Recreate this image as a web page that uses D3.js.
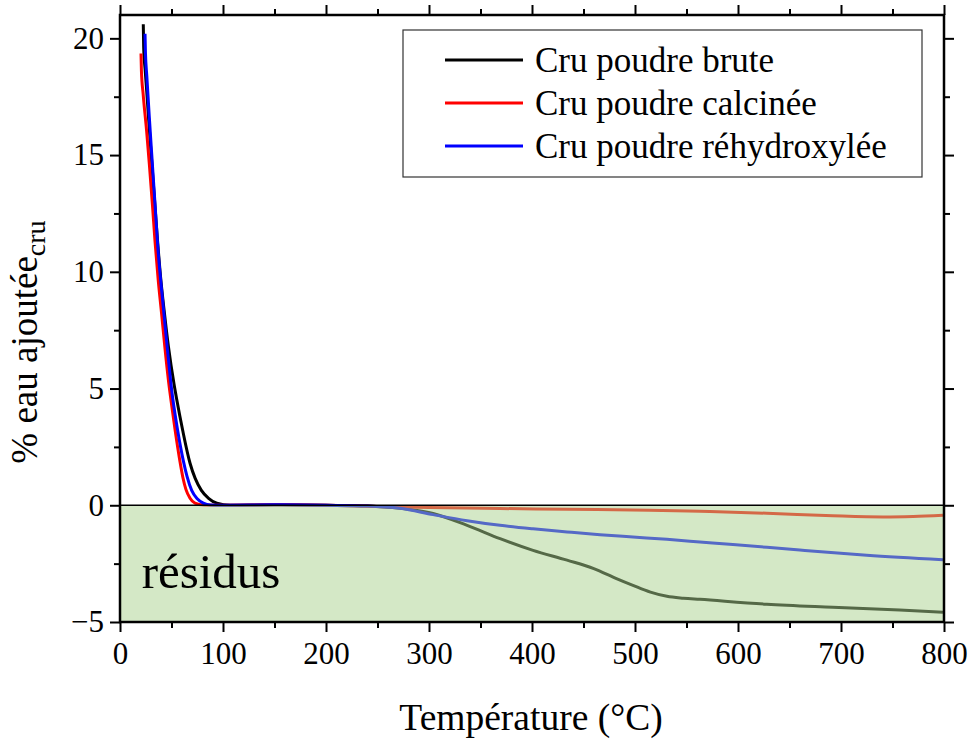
<!DOCTYPE html>
<html>
<head>
<meta charset="utf-8">
<script src="https://cdn.jsdelivr.net/npm/d3@7"></script>
<style>
  body { margin: 0; background: #fff; }
</style>
</head>
<body>
<div id="chart"></div>
<script>
// Data: [temperature °C, % eau ajoutée]
const brute = [[22.6,20.6],[23,19.6],[24.5,18.6],[26,17.7],[28.5,16.1],[31,14.6],[34,12.8],[36.5,11.3],
  [40,9.5],[42.7,8.4],[47,6.8],[52.4,5.2],[55,4.55],[60.9,3.2],[68,1.8],[73,1.15],[79,0.64],[86,0.3],
  [94,0.09],[107,0],[150,0.02],[200,0],[240,-0.03],[272,-0.13],[304,-0.35],[337,-0.86],[369,-1.43],
  [401,-1.93],[434,-2.35],[460,-2.71],[482,-3.14],[498,-3.43],[515,-3.72],[531,-3.9],[547,-3.98],
  [563,-4.03],[628,-4.24],[692,-4.37],[757,-4.49],[799,-4.58]];
const calcinee = [[20.4,19.35],[20.8,18.6],[22.5,17.6],[25.9,16],[28.5,14.6],[31.6,12.8],[34,11.3],
  [37,9.7],[40.4,8.2],[43.5,6.8],[46.9,5.4],[49.5,4.5],[53.4,3.25],[58.3,1.85],[61,1.2],[64,0.68],
  [68,0.3],[72.8,0.09],[81,0.01],[100,0],[150,0.02],[200,0],[250,-0.05],[300,-0.1],[369,-0.14],
  [434,-0.17],[514,-0.21],[563,-0.26],[628,-0.34],[692,-0.45],[741,-0.5],[770,-0.48],[799,-0.43]];
const rehydroxylee = [[24.3,20.2],[24.7,19.4],[26,18.4],[28.5,16.6],[31,14.9],[34,12.9],[36.5,11.2],
  [42,8.5],[46,6.7],[50,5],[56,3.2],[61.5,1.9],[65,1.25],[69.6,0.64],[75,0.28],[80.9,0.09],[88,0.01],
  [100,0],[150,0.02],[200,0],[240,-0.03],[272,-0.13],[304,-0.4],[337,-0.66],[369,-0.86],[401,-1.01],
  [434,-1.14],[466,-1.26],[498,-1.36],[531,-1.46],[563,-1.57],[595,-1.68],[660,-1.92],[725,-2.14],[799,-2.33]];

const seriesNames = ["Cru poudre brute", "Cru poudre calcinée", "Cru poudre réhydroxylée"];
const seriesColors = ["#000000", "#ff0000", "#0000ff"];
const seriesData = [brute, calcinee, rehydroxylee];

const xTicks = [0, 100, 200, 300, 400, 500, 600, 700, 800];
const yTicks = [-5, 0, 5, 10, 15, 20];

const FONT = "Liberation Serif";

// chart setup
const width = 970, height = 740;
const margin = {top: 15, right: 26, bottom: 118, left: 120};

const svg = d3.select("#chart").append("svg")
  .attr("width", width)
  .attr("height", height)
  .style("font-family", FONT);

const x = d3.scaleLinear().domain([0, 800]).range([margin.left, width - margin.right]);
const y = d3.scaleLinear().domain([-5, 21]).range([height - margin.bottom, margin.top]);

const line = d3.line()
  .x(d => x(d[0]))
  .y(d => y(d[1]))
  .curve(d3.curveMonotoneX);

// curves
seriesData.forEach((s, i) => {
  svg.append("path")
    .datum(s)
    .attr("d", line)
    .attr("fill", "none")
    .attr("stroke", seriesColors[i])
    .attr("stroke-width", 3);
});

// green "résidus" zone laid over the curves
svg.append("rect")
  .attr("x", x(0))
  .attr("y", y(0))
  .attr("width", x(800) - x(0))
  .attr("height", y(-5) - y(0))
  .attr("fill", "#a9d18e")
  .attr("opacity", 0.5);

svg.append("line")
  .attr("x1", x(0)).attr("x2", x(800))
  .attr("y1", y(0)).attr("y2", y(0))
  .attr("stroke", "#000")
  .attr("stroke-width", 1.6);

svg.append("text")
  .attr("x", x(21))
  .attr("y", y(-3.55))
  .style("font-family", FONT)
  .style("font-size", "49px")
  .text("résidus");

// axes (ticks pointing out on all four sides)
const minorX = d3.range(50, 800, 100);
const minorY = d3.range(-2.5, 21, 5);

function styleAxis(g) {
  g.attr("font-family", null);
  g.select(".domain").remove();
  g.selectAll(".tick line").attr("stroke", "#000").attr("stroke-width", 2);
  g.selectAll("text").style("font-family", FONT).style("font-size", "31px").attr("fill", "#000");
}

svg.append("g")
  .attr("transform", `translate(0,${y(-5)})`)
  .call(d3.axisBottom(x).tickValues(xTicks).tickSize(10).tickPadding(6))
  .call(styleAxis)
  .call(g => g.selectAll("text").attr("dy", "0.85em"));
svg.append("g")
  .attr("transform", `translate(0,${y(-5)})`)
  .call(d3.axisBottom(x).tickValues(minorX).tickSize(6).tickFormat(""))
  .call(styleAxis);
svg.append("g")
  .attr("transform", `translate(0,${margin.top})`)
  .call(d3.axisTop(x).tickValues(xTicks).tickSize(10).tickFormat(""))
  .call(styleAxis);
svg.append("g")
  .attr("transform", `translate(0,${margin.top})`)
  .call(d3.axisTop(x).tickValues(minorX).tickSize(6).tickFormat(""))
  .call(styleAxis);

svg.append("g")
  .attr("transform", `translate(${x(0)},0)`)
  .call(d3.axisLeft(y).tickValues(yTicks).tickSize(10).tickPadding(6))
  .call(styleAxis);
svg.append("g")
  .attr("transform", `translate(${x(0)},0)`)
  .call(d3.axisLeft(y).tickValues(minorY).tickSize(6).tickFormat(""))
  .call(styleAxis);
svg.append("g")
  .attr("transform", `translate(${x(800)},0)`)
  .call(d3.axisRight(y).tickValues(yTicks).tickSize(10).tickFormat(""))
  .call(styleAxis);
svg.append("g")
  .attr("transform", `translate(${x(800)},0)`)
  .call(d3.axisRight(y).tickValues(minorY).tickSize(6).tickFormat(""))
  .call(styleAxis);

// frame
svg.append("rect")
  .attr("x", x(0))
  .attr("y", margin.top)
  .attr("width", x(800) - x(0))
  .attr("height", y(-5) - margin.top)
  .attr("fill", "none")
  .attr("stroke", "#000")
  .attr("stroke-width", 2.5);

// axis titles
svg.append("text")
  .attr("x", 531)
  .attr("y", 730)
  .attr("text-anchor", "middle")
  .style("font-family", FONT)
  .style("font-size", "37.5px")
  .text("Température (°C)");

const yTitle = svg.append("text")
  .attr("transform", `translate(37,342) rotate(-90)`)
  .attr("text-anchor", "middle")
  .style("font-family", FONT)
  .style("font-size", "37px");
yTitle.append("tspan").text("% eau ajoutée");
yTitle.append("tspan").attr("dy", "0.3em").style("font-size", "28px").text("cru");

// legend
const legend = svg.append("g").attr("transform", "translate(403,30)");
legend.append("rect")
  .attr("width", 519)
  .attr("height", 147)
  .attr("fill", "#fff")
  .attr("stroke", "#333")
  .attr("stroke-width", 1.2);

seriesNames.forEach((name, i) => {
  const row = legend.append("g").attr("transform", `translate(0,${30 + i * 43})`);
  row.append("line")
    .attr("x1", 42).attr("x2", 120)
    .attr("stroke", seriesColors[i])
    .attr("stroke-width", 3);
  row.append("text")
    .attr("x", 132)
    .attr("dy", "0.33em")
    .style("font-family", FONT)
    .style("font-size", "35px")
    .text(name);
});
</script>
</body>
</html>
